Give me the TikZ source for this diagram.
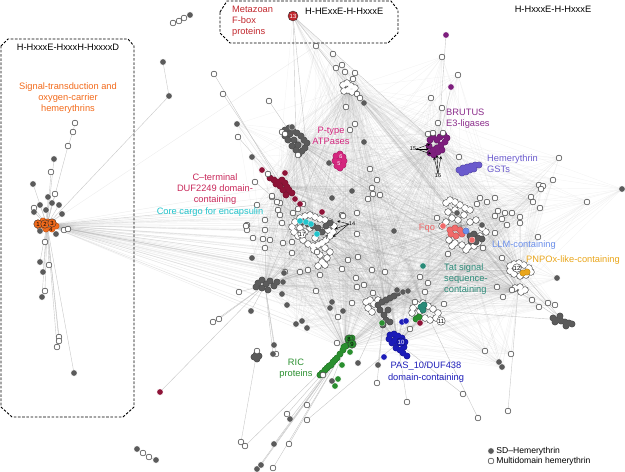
\documentclass[tikz,border=0pt]{standalone}
\usepackage{fontspec}
\setmainfont{Liberation Sans}
\usetikzlibrary{positioning}
\pgfdeclarelayer{edges}
\pgfsetlayers{edges,main}

\definecolor{sdgray}{HTML}{5B5B5B}
\definecolor{sigorange}{HTML}{F26A1B}
\definecolor{fboxred}{HTML}{C1272D}
\definecolor{atpmag}{HTML}{D4267E}
\definecolor{brutpur}{HTML}{7D1E7D}
\definecolor{brutlab}{HTML}{8A2B8A}
\definecolor{gstblue}{HTML}{6A5ACD}
\definecolor{dufred}{HTML}{8E1438}
\definecolor{duflab}{HTML}{C8285A}
\definecolor{cargocyan}{HTML}{22C4CC}
\definecolor{fqored}{HTML}{F06A6A}
\definecolor{llmblue}{HTML}{6B8FEA}
\definecolor{pnpyel}{HTML}{E9A51A}
\definecolor{tatteal}{HTML}{2A8A78}
\definecolor{ricgreen}{HTML}{2A8F2F}
\definecolor{pasblue}{HTML}{1C1CB8}

\tikzset{
  sd/.style={circle, fill=sdgray, draw=white, line width=0.2pt, inner sep=0pt, minimum size=6.2pt},
  md/.style={circle, fill=white, draw=black!75, line width=0.55pt, inner sep=0pt, minimum size=5.8pt},
  hit/.style={circle, fill=#1, draw=white, line width=0.2pt, inner sep=0pt, minimum size=6.2pt},
  num/.style={circle, draw=black!80, line width=0.4pt, fill=#1, inner sep=0pt, minimum size=8.5pt, font=\fontsize{6}{7}\selectfont},
  web/.style={draw=black!45, line width=0.45pt, opacity=0.09},
  fan/.style={draw=black!45, line width=0.45pt, opacity=0.15},
  link/.style={draw=black!22, line width=0.4pt},
  motif/.style={dashed, dash pattern=on 2.6pt off 1.6pt, line width=0.9pt},
  lab/.style={align=center, inner sep=0pt},
  tag/.style={inner sep=0pt, font=\fontsize{5.5}{6}\selectfont},
}

% clusters drawn as unions of circles
\newcommand\wblob[1]{%
  \foreach \x/\y in {#1} \fill[black!75] (\x,\y) circle (3.6pt);
  \foreach \x/\y in {#1} \fill[white] (\x,\y) circle (3pt);}
\newcommand\cblob[2]{%
  \foreach \x/\y in {#2} \fill[#1!75!black] (\x,\y) circle (3.4pt);
  \foreach \x/\y in {#2} \fill[#1] (\x,\y) circle (2.9pt);}

% node positions
\def\coremd{257/205,272/197,280/203,278/210,293/213,298/209,303/204,342/215,357/213,265/220,282/223,247/230,265/230,253/238,263/239,270/240,283/243,292/242,265/248,292/253,317/252,358/257,320/275,308/270,285/272,300/272,357/287,342/269,348/260,372/270,385/272,356/278,364/285,373/293,338/317,352/303,316/291,343/216,357/234,
316/46,333/54,336/68,342/65,345/72,355/73,353/79,357/94,360/98,346/107,355/124,350/130,370/169,377/180,372/188,373/194,380/195,368/199,282/132,285/134,298/155,
442/57,458/75,431/98,442/108,438/123,428/134,433/133,443/133,459/157,
480/198,487/202,495/198,477/204,505/213,498/211,495/216,502/219,512/213,520/217,507/225,520/223,495/233,483/248,502/258,448/254,437/218,538/237,539/185,543/186,541/189,531/197,533/202,540/208,553/180,559/158,587/202,497/287,503/297,512/290,532/300,539/307,548/303,555/305,485/351,511/354,428/283,425/292,415/302,410/329,420/277,444/304,268/174,272/196,277/202,280/215,247/225}
\def\coresd{252/258,332/198,394/231,332/302,330/308,343/311,397/290,403/292,408/291,296/324,302/321,307/328,287/305,282/294,283/282,284/273,364/103,364/142,329/163,352/191,252/157,237/124,292/127,457/213,482/225,557/278,499/362,502/367,622/189}
\def\outmd{o1/214/74/duf,o2/223/94/cen,o3/269/101/atp,o4/238/137/duf,o5/255/182/cen,o6/246/226/cen,o7/241/442/rcl,o8/245/446/ric,o9/289/444/ric,o10/273/468/ric,o11/287/414/ric,o12/307/405/ric,o13/307/420/pas,o14/213/322/cgl,o15/219/319/cgl,o16/239/292/cgl,o17/257/351/rcl,o18/276/354/cgl,o19/463/394/pas,o20/478/418/tat,o21/508/411/rgt,o22/407/402/pas,o23/377/383/low,o24/323/375/ric,o25/337/343/ric,o26/75/123/o27,o27/73/132/o28,o28/68/146/ora,o29/51/172/ora,o30/55/194/ora,o31/34/208/ora,o32/64/230/ora,o33/68/229/ora,o34/45/242/ora,o35/49/265/ora,o36/45/291/ora,o37/59/337/ora,o38/59/341/ora,o39/57/347/ora,o40/173/23/o41,o41/179/21/o42,o42/184/18/t1,o43/143/453/t4,o44/149/457/o43}
\def\outsd{t1/190/15/o42,t2/163/62/t3,t3/169/96/ora,t4/137/449/o43,t5/156/460/o44,t6/33/184/ora,t7/54/159/ora,t8/48/197/ora,t9/40/205/ora,t10/59/205/ora,t11/52/203/ora,t12/34/212/ora,t13/46/210/ora,t14/62/214/ora,t15/40/231/ora,t16/56/234/ora,t17/40/262/ora,t18/43/272/ora,t19/42/297/ora,t20/74/373/ora,t21/274/444/ric,t22/257/469/ric,t23/261/465/ric,t24/290/419/ric,t25/251/311/cgl,t26/274/345/cgl,t27/273/354/cgl,t28/378/365/low,t29/358/363/low,t30/332/381/ric}
\def\hits{h1/446/35/brutpur,h2/451/87/brutpur,h3/262/170/dufred,h4/285/173/dufred,h5/300/204/dufred,h6/322/212/dufred,h7/295/199/dufred,h8/160/392/dufred,h9/423/266/tatteal,h10/420/323/dufred,h11/402/322/pasblue,h12/406/321/pasblue,h13/384/357/pasblue,h14/350/352/ricgreen,h15/342/365/ricgreen,h16/338/379/ricgreen,h17/335/386/ricgreen,h18/382/323/ricgreen,h19/443/226/fqored,h20/472/240/fqored,h21/306/222/cargocyan,h22/311/224/cargocyan,h23/317/234/cargocyan,h24/300/221/cargocyan}
\def\hubs{atp,duf,cen,top,brt,fqo,pnp,rgt,low,tat,ric,pas,cgl}

\begin{document}
\begin{tikzpicture}[x=1pt, y=-1pt, >=stealth, every node/.style={font=\fontsize{9.3}{11.2}\selectfont}]
\useasboundingbox (0,0) rectangle (625,472);

% motif boxes
\draw[motif] (1,46) -- (8,39) -- (128,39) -- (134,46) -- (134,407) -- (123,417) -- (12,417) -- (1,407) -- cycle;
\draw[motif] (220,12) -- (227,1) -- (391,1) -- (398,10) -- (398,33) -- (388,43) -- (230,43) -- (220,33) -- cycle;

% cluster centres
\coordinate (ora) at (47,225);
\coordinate (atp) at (296,141);
\coordinate (duf) at (281,186);
\coordinate (cen) at (315,232);
\coordinate (top) at (349,88);
\coordinate (brt) at (438,145);
\coordinate (gst) at (470,168);
\coordinate (fqo) at (462,226);
\coordinate (pnp) at (520,270);
\coordinate (rgt) at (518,291);
\coordinate (rgb) at (562,320);
\coordinate (cgl) at (265,285);
\coordinate (low) at (385,305);
\coordinate (tat) at (425,310);
\coordinate (ric) at (345,348);
\coordinate (pas) at (398,343);
\coordinate (rcl) at (256,357);

% clusters
\wblob{295/222,300/218,305/216,310/215,315/217,320/219,325/220,330/222,334/226,333/232,330/236,326/240,322/243,318/245,313/246,308/244,303/240,298/236,294/232,292/227,300/228,310/228,320/230,325/248,330/252,327/258,322/262,318/266,325/265,320/255,314/250,305/232,315/238,328/230}
\cblob{sdgray}{303/222,308/224,313/226,318/228,322/232,326/226,330/223}
\wblob{446/203,450/200,455/202,460/205,465/208,470/210,455/210,448/212,452/218,458/220,446/222,442/226,449/240,455/243,462/245,468/247,474/246,478/243,472/238,466/250,470/222,476/220,482/228,486/232,480/236,464/215,452/246}
\cblob{fqored}{450/230,455/228,460/230,462/234,456/236,451/234}
\cblob{sdgray}{470/236,474/234,478/238,476/242,471/241,482/239}
\cblob{llmblue}{466/231}
\wblob{510/266,514/264,519/263,524/265,529/268,531/272,526/275,520/276,514/274,510/271}
\cblob{pnpyel}{523/273,527/272}
\wblob{515/288,520/287,525/290,521/292}
\cblob{sdgray}{553/318,557/320,561/321,565/322,569/323,572/324,560/316,555/322,566/326}
\wblob{343/85,347/83,351/86,355/88,348/90,344/91,352/92}
\cblob{sdgray}{285/130,289/128,293/131,297/133,301/136,304/140,307/143,305/148,302/151,299/154,296/150,292/146,288/140,285/136,294/140,298/145,290/134}
\cblob{atpmag}{336/156,340/154,343/157,344/161,343/165,340/168,337/166,335/161,339/161}
\cblob{brutpur}{430/140,433/137,437/140,440/137,444/135,447/138,445/142,441/145,437/148,433/150,430/153,434/155,438/152,442/150,429/146}
\cblob{gstblue}{459/170,463/168,467/167,471/166,475/165,479/165,462/173,466/172,470/170,474/169}
\cblob{dufred}{270/178,274/180,278/182,282/180,285/183,287/187,289/190,292/193,280/186,276/184,283/190,286/195}
\cblob{sdgray}{258/283,262/280,266/284,270/281,274/286,262/288,268/290,256/287,277/282}
\cblob{sdgray}{254/357,257/359,256/355,259/356}
\wblob{366/302,370/300,374/304,368/308,372/312,378/300}
\cblob{sdgray}{378/305,382/302,386/300,390/298,394/296,398/293,380/310,384/315,386/320,390/322,383/325,388/310}
\wblob{413/308,418/305,423/303,428/306,433/309,438/313,436/318,430/320,425/318,418/318,412/313,420/311}
\cblob{tatteal}{421/307,424/305,423/310}
\cblob{ricgreen}{416/319,419/317}
\cblob{ricgreen}{352/338,349/342,346/346,343/350,340/354,337/358,333/362,329/366,325/370,322/373,320/375,327/368,335/360,331/365,344/347}
\cblob{pasblue}{390/335,394/334,398/336,402/338,405/342,404/347,400/350,396/348,392/343,389/339,398/343,403/353,407/356,395/340}
\cblob{sigorange}{38/223,43/221,48/222,53/223,56/226,52/229,46/229,40/228}

% proteins
\foreach \x/\y [count=\i] in \coremd {\node[md] (cm\i) at (\x,\y) {}; \xdef\ncm{\i}}
\foreach \x/\y [count=\i] in \coresd {\node[sd] (cs\i) at (\x,\y) {}; \xdef\ncs{\i}}
\foreach \n/\x/\y/\h in \outmd {\node[md] (\n) at (\x,\y) {};}
\foreach \n/\x/\y/\h in \outsd {\node[sd] (\n) at (\x,\y) {};}
\foreach \n/\x/\y/\c in \hits {\node[hit=\c] (\n) at (\x,\y) {};}

% numbered families
\node[num=sigorange] (n1) at (38,224) {1};
\node[num=sigorange] (n2) at (45,224) {2};
\node[num=sigorange] (n3) at (52,223) {3};
\node[tag] (n4) at (51,230) {4};
\node[tag, text=white] (n5) at (339,164) {5};
\node[tag, text=white] (n6) at (341,157) {6};
\node[tag] (n7) at (327,238) {7};
\node[num=ricgreen] (n8) at (349,339) {8};
\node[num=ricgreen] (n9) at (352,344) {9};
\node[num=pasblue, text=white, draw=pasblue!60!black] (n10) at (401,342) {10};
\node[num=white] (n11) at (441,321) {11};
\node[num=white] (n12) at (517,268) {12};
\node[num=fboxred, text=white, minimum size=10pt] (n13) at (293,16) {13};
\node[tag] (n14) at (352,224) {14};
\node[tag] (n15) at (413,149) {15};
\node[tag] (n16) at (438,176) {16};
\node[num=white] (n17) at (302,234) {17};
\coordinate (a14a) at (337,221);
\coordinate (a14b) at (335,229);
\coordinate (a14c) at (333,237);
\coordinate (a15a) at (430,144);
\coordinate (a15b) at (429,149);
\coordinate (a15c) at (431,154);
\coordinate (a16a) at (434,157);
\coordinate (a16b) at (437,155);
\coordinate (a16c) at (441,156);
\foreach \t in {a14a,a14b,a14c} \draw[->, line width=0.4pt] (n14.west) -- (\t);
\foreach \t in {a15a,a15b,a15c} \draw[->, line width=0.4pt] (n15.east) -- (\t);
\foreach \t in {a16a,a16b,a16c} \draw[->, line width=0.4pt] (n16.north) -- (\t);

% similarity edges
\begin{pgfonlayer}{edges}
  \foreach \i in {1,...,\ncm} \foreach \h in \hubs \draw[web] (cm\i) -- (\h);
  \foreach \i in {1,...,\ncs} \foreach \h in \hubs \draw[web] (cs\i) -- (\h);
  \foreach \a in \hubs \foreach \b in \hubs \draw[web] (\a) -- (\b);
  \foreach \i in {1,...,40} \draw[fan] (ora) -- (cm\i);
  \foreach \i in {1,...,16} \draw[fan] (ora) -- (cs\i);
  \foreach \h in {cen,low,fqo,tat,ric,pas,cgl,rgt,duf} \draw[fan] (ora) -- (\h);
  \foreach \i in {41,...,58} \draw[web] (n13) -- (cm\i);
  \foreach \h in {top,atp,cen,brt} \draw[link] (n13) -- (\h);
  \foreach \n/\x/\y/\h in \outmd \draw[link] (\n) -- (\h);
  \foreach \n/\x/\y/\h in \outsd \draw[link] (\n) -- (\h);
  \foreach \n in {h1,h2} \draw[link] (\n) -- (brt);
  \draw[link] (h8) -- (cgl);
  \draw[link] (h9) -- (tat);
  \foreach \h in {rgt,pnp,fqo,tat} \draw[link] (rgb) -- (\h);
\end{pgfonlayer}

% motif and family labels
\node[lab] (m1) at (68,47) {H-HxxxE-HxxxH-HxxxxD};
\node[lab] (m2) at (305,11) [anchor=west] {H-HExxE-H-HxxxE};
\node[lab] (m3) at (553,9) {H-HxxxE-H-HxxxE};
\node[lab, text=sigorange] (f1) at (68,98) {Signal-transduction and\\oxygen-carrier\\hemerythrins};
\node[lab, text=fboxred, align=left, anchor=west] (f2) at (232,21) {Metazoan\\F-box\\proteins};
\node[lab, text=atpmag] (f3) at (331,136) {P-type\\ATPases};
\node[lab, text=brutlab, align=left, anchor=west] (f4) at (446,119) {BRUTUS\\E3-ligases};
\node[lab, text=gstblue, align=left, anchor=west] (f5) at (487,164) {Hemerythrin\\GSTs};
\node[lab, text=duflab] (f6) at (215,189) {C--terminal\\DUF2249 domain-\\containing};
\node[lab, text=cargocyan] (f7) at (210,212) {Core cargo for encapsulin};
\node[lab, text=fqored] (f8) at (427,228) {Fqo};
\node[lab, text=llmblue, anchor=west] (f9) at (492,245) {LLM-containing};
\node[lab, text=pnpyel, anchor=west] (f10) at (526,260) {PNPOx-like-containing};
\node[lab, text=tatteal, align=left, anchor=west] (f11) at (444,279) {Tat signal\\sequence-\\containing};
\node[lab, text=ricgreen] (f12) at (296,369) {RIC\\proteins};
\node[lab, text=pasblue] (f13) at (426,372) {PAS\_10/DUF438\\domain-containing};

% legend
\node[sd] (k1) at (491,451) {};
\node[md] (k2) at (491,461) {};
\node[right=2pt of k1, inner sep=0pt, font=\fontsize{8.6}{10}\selectfont] (k1t) {SD--Hemerythrin};
\node[right=2pt of k2, inner sep=0pt, font=\fontsize{8.6}{10}\selectfont] (k2t) {Multidomain hemerythrin};
\end{tikzpicture}
\end{document}
